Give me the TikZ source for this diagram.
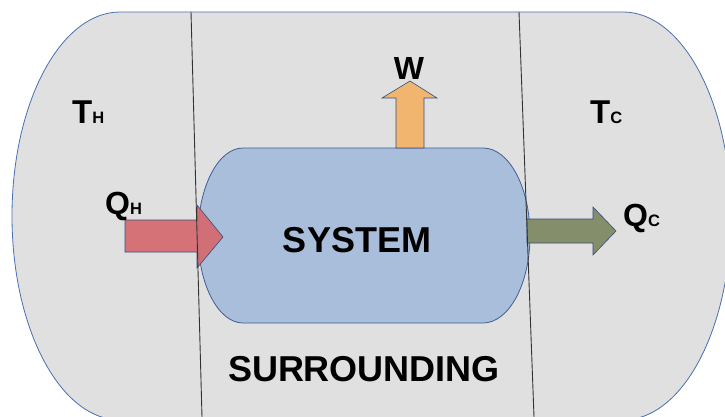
\documentclass[tikz,border=0pt]{standalone}
\usepackage{fontspec}
\setmainfont{Liberation Sans}
\definecolor{surrfill}{HTML}{E0E0E0}
\definecolor{edgeblue}{HTML}{4A6FB0}
\definecolor{sysfill}{HTML}{A8BEDB}
\definecolor{heatin}{HTML}{D5696F}
\definecolor{heatout}{HTML}{858E6A}
\definecolor{workout}{HTML}{F2B56F}
\newcommand{\bigsz}[1]{{\fontsize{33}{33}\selectfont #1}}
\newcommand{\smallsz}[1]{{\fontsize{16.5}{16.5}\selectfont #1}}
\tikzset{
  region/.style={fill=surrfill, draw=edgeblue, line width=0.8pt},
  sysbox/.style={fill=sysfill, draw=edgeblue!85!black, line width=0.8pt},
  blockarrow/.style={draw=edgeblue!70!black, line width=0.6pt},
  wall/.style={draw=black!80, line width=0.9pt},
  lbl/.style={inner sep=0pt, font=\bfseries},
  biglbl/.style={lbl, font=\bfseries\fontsize{36}{36}\selectfont}
}
\begin{document}
\begin{tikzpicture}[x=1pt, y=-1pt]
  \useasboundingbox (0,0) rectangle (725,417);
  \clip (0,0) rectangle (725,417);
  \fill[white] (0,0) rectangle (725,417);

  % surroundings, with elliptical ends
  \draw[region] (120,12) -- (623,12)
    arc[start angle=-90, end angle=90, x radius=108, y radius=204]
    -- (120,420)
    arc[start angle=90, end angle=270, x radius=108, y radius=204]
    -- cycle;

  % the system
  \draw[sysbox] (243,148) -- (483,148)
    arc[start angle=-90, end angle=90, x radius=47, y radius=87.5]
    -- (243,323)
    arc[start angle=90, end angle=270, x radius=45, y radius=87.5]
    -- cycle;

  % heat in, heat out, work out
  \draw[blockarrow, fill=heatin, fill opacity=0.92]
    (125,220) -- (197,220) -- (197,205) -- (223,237) -- (197,268)
    -- (197,252) -- (125,252) -- cycle;
  \draw[blockarrow, fill=heatout]
    (527,219) -- (593,219) -- (593,207) -- (616,231) -- (593,255)
    -- (593,243) -- (527,243) -- cycle;
  \draw[blockarrow, fill=workout]
    (396,148) -- (396,98) -- (382,98) -- (410,81) -- (437,98)
    -- (424,98) -- (424,148) -- cycle;

  % boundaries between reservoirs and surroundings
  \coordinate (wl1) at (191,12);
  \coordinate (wl2) at (202,417);
  \coordinate (wr1) at (519,12);
  \coordinate (wr2) at (534,417);
  \draw[wall] (wl1) -- (wl2);
  \draw[wall] (wr1) -- (wr2);

  % labels
  \node[lbl, anchor=base west] (TH) at (72,124) {\bigsz{T}\smallsz{H}};
  \node[lbl, anchor=base west] (TC) at (590,124) {\bigsz{T}\smallsz{C}};
  \node[lbl, anchor=base west] (QH) at (105,214) {{\fontsize{32}{32}\selectfont Q}\smallsz{H}};
  \node[lbl, anchor=base west] (QC) at (623,226) {{\fontsize{32}{32}\selectfont Q}\smallsz{C}};
  \node[lbl, anchor=base] (W) at (409,80) {\fontsize{32}{32}\selectfont W};
  \node[biglbl, anchor=base] (sys) at (357,252) {SYSTEM};
  \node[biglbl, anchor=base] (sur) at (364,381) {SURROUNDING};
\end{tikzpicture}
\end{document}
